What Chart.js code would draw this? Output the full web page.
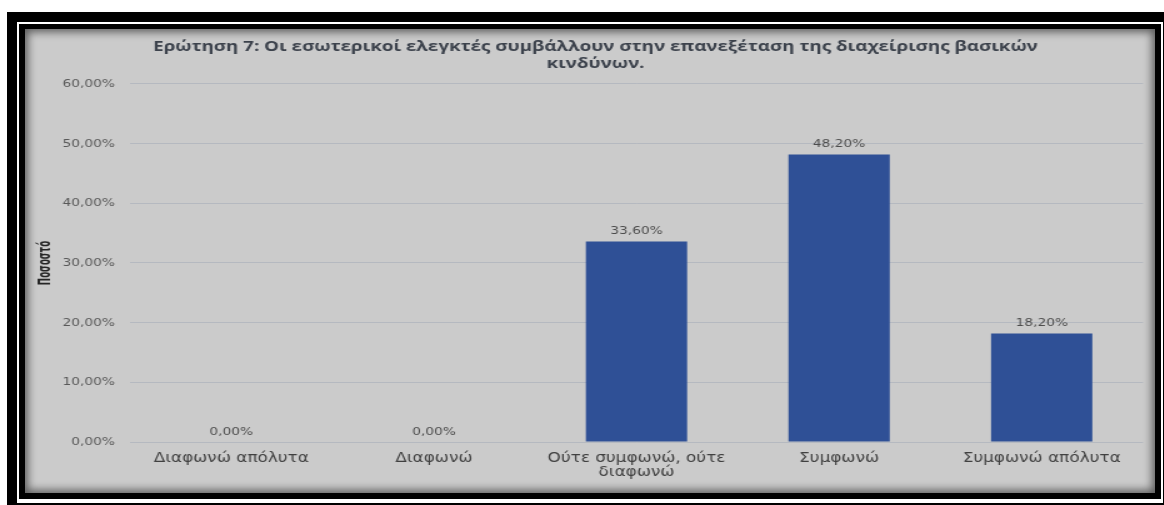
<!DOCTYPE html>
<html lang="el">
<head>
<meta charset="utf-8">
<script src="https://cdn.jsdelivr.net/npm/chart.js@4.4.1/dist/chart.umd.min.js"></script>
<style>
  html, body { margin: 0; padding: 0; background: #ffffff; width: 1164px; height: 505px; overflow: hidden; }
  .frame { position: absolute; }
  #outer { left: 7px; top: 12px; width: 1157px; height: 493px; background: #000; }
  #gap { left: 17px; top: 22px; width: 1146px; height: 481px; background: #fff; }
  #inner { left: 19px; top: 24px; width: 1142px; height: 475px; background: #000; }
  #panel { left: 25px; top: 29px; width: 1130px; height: 464px; background: #cbcbcb; overflow: hidden; }
  #panel canvas { position: absolute; left: 0; top: 0; }
  #shade { position: absolute; left: 0; top: 0; width: 1130px; height: 464px;
           box-shadow: inset 0 0 9px 3px rgba(0,0,0,0.55); pointer-events: none; }
</style>
</head>
<body>
<div class="frame" id="outer"></div>
<div class="frame" id="gap"></div>
<div class="frame" id="inner"></div>
<div class="frame" id="panel">
  <!-- the chart is laid out on a 904px-wide canvas and shown widened to the panel -->
  <canvas id="chart" width="904" height="464" style="width:1130px;height:464px"></canvas>
  <div id="shade"></div>
</div>
<script>
// Survey answers and the share of respondents (%) for each
const categories = [
  'Διαφωνώ απόλυτα',
  'Διαφωνώ',
  ['Ούτε συμφωνώ, ούτε', 'διαφωνώ'],
  'Συμφωνώ',
  'Συμφωνώ απόλυτα'
];
const percentages = [0.0, 0.0, 33.6, 48.2, 18.2];
const titleLines = [
  'Ερώτηση 7: Οι εσωτερικοί ελεγκτές συμβάλλουν στην επανεξέταση της διαχείρισης βασικών',
  'κινδύνων.'
];
const yAxisTitle = 'Ποσοστό';
const yTicks = [0, 10, 20, 30, 40, 50, 60];

const fmtPct = v => v.toFixed(2).replace('.', ',') + '%';

// Value labels written just above each bar
const barValueLabels = {
  id: 'barValueLabels',
  afterDatasetsDraw(chart) {
    const ctx = chart.ctx;
    const meta = chart.getDatasetMeta(0);
    ctx.save();
    ctx.font = '11px "DejaVu Sans"';
    ctx.fillStyle = '#4d4d4d';
    ctx.textAlign = 'center';
    ctx.textBaseline = 'middle';
    meta.data.forEach((bar, i) => {
      ctx.fillText(fmtPct(percentages[i]), bar.x, bar.y - 10);
    });
    ctx.restore();
  }
};

// Narrow, rotated title of the value axis, centred on the plot height
const valueAxisTitle = {
  id: 'valueAxisTitle',
  afterDraw(chart) {
    const ctx = chart.ctx;
    const area = chart.chartArea;
    ctx.save();
    ctx.translate(16, (area.top + area.bottom) / 2);
    ctx.rotate(-Math.PI / 2);
    ctx.scale(0.69, 1);
    ctx.font = 'bold 14px "DejaVu Sans Condensed", "DejaVu Sans"';
    ctx.fillStyle = '#262626';
    ctx.textAlign = 'center';
    ctx.textBaseline = 'middle';
    ctx.fillText(yAxisTitle, 0, 0);
    ctx.restore();
  }
};

new Chart(document.getElementById('chart'), {
  type: 'bar',
  data: {
    labels: categories,
    datasets: [{
      data: percentages,
      backgroundColor: '#2f5096',
      borderWidth: 0,
      barPercentage: 0.5,
      categoryPercentage: 1.0
    }]
  },
  options: {
    responsive: false,
    animation: false,
    devicePixelRatio: 1,
    layout: { padding: { left: 18.4, right: 9.6, top: 0, bottom: 0 } },
    plugins: {
      legend: { display: false },
      tooltip: { enabled: false },
      title: {
        display: true,
        text: titleLines,
        color: '#3c424c',
        font: { family: '"Open Sans"', size: 15, weight: 'bold', lineHeight: 1.133 },
        padding: { top: 9.5, bottom: 11.5 }
      }
    },
    scales: {
      x: {
        grid: { display: false, drawTicks: false },
        border: { display: false },
        ticks: {
          color: '#404040',
          font: { family: '"DejaVu Sans"', size: 13.5, lineHeight: 1.04 },
          padding: 9,
          maxRotation: 0,
          autoSkip: false
        },
        afterFit(scale) { scale.height = 51; }
      },
      y: {
        min: 0,
        max: 60,
        afterBuildTicks(scale) { scale.ticks = yTicks.map(v => ({ value: v })); },
        grid: { color: '#b5b9c0', lineWidth: 1, drawTicks: false },
        border: { display: false },
        ticks: {
          color: '#595959',
          font: { family: '"DejaVu Sans"', size: 11 },
          padding: 12,
          callback: v => fmtPct(v)
        },
        afterFit(scale) { scale.width = 65.6; }
      }
    }
  },
  plugins: [barValueLabels, valueAxisTitle]
});
</script>
</body>
</html>
